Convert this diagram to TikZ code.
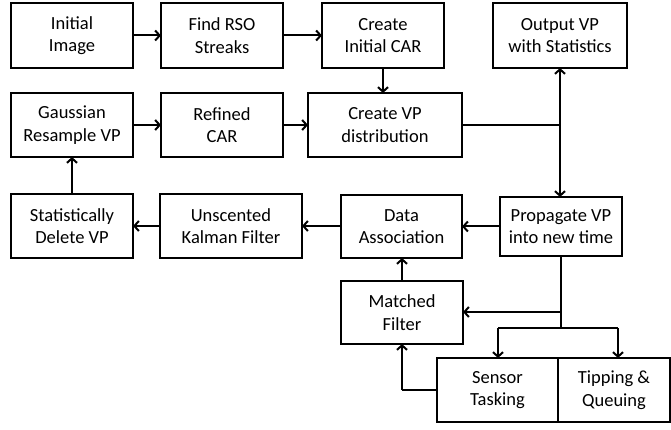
\documentclass[tikz,border=0pt]{standalone}
\usepackage{fontspec}
\setmainfont{Carlito}
\usetikzlibrary{arrows.meta}
\begin{document}
\begin{tikzpicture}[x=1pt,y=-1pt,
  box/.style={draw, line width=2.3pt, align=center, inner sep=0pt, outer sep=0pt,
    minimum height=64pt, font=\fontsize{18.5}{22.5}\selectfont},
  arr/.style={line width=2pt, -{Straight Barb[length=4.5pt,width=10pt,line width=2pt]}},
  ln/.style={line width=2pt}]
\useasboundingbox (0,0) rectangle (671,430);
\node[box, minimum width=122pt, minimum height=65pt] (init) at (72,35.5) {Initial\\Image};
\node[box, minimum width=122pt, minimum height=65pt] (find) at (222,35.5) {Find RSO\\Streaks};
\node[box, minimum width=122pt, minimum height=65pt] (cicar) at (383,35.5) {Create\\Initial CAR};
\node[box, minimum width=134pt, minimum height=65pt] (outvp) at (560,35.5) {Output VP\\with Statistics};
\node[box, minimum width=122pt] (gauss) at (72,125) {Gaussian\\Resample VP};
\node[box, minimum width=122pt] (refined) at (222,125) {Refined\\CAR};
\node[box, minimum width=154pt] (cvpd) at (385,125) {Create VP\\distribution};
\node[box, minimum width=122pt] (stat) at (72,226) {Statistically\\Delete VP};
\node[box, minimum width=142pt] (ukf) at (231,226) {Unscented\\Kalman Filter};
\node[box, minimum width=121pt, minimum height=63pt] (da) at (401.5,226.5) {Data\\Association};
\node[box, minimum width=122pt, minimum height=59pt] (prop) at (561,226.5) {Propagate VP\\into new time};
\node[box, minimum width=122pt, minimum height=63pt] (mf) at (402,312.5) {Matched\\Filter};
\node[box, minimum width=121pt] (st) at (497.5,390) {Sensor\\Tasking};
\node[box, minimum width=112pt] (tq) at (614,390) {Tipping \&\\Queuing};

\draw[arr] (init) -- (find);
\draw[arr] (find) -- (cicar);
\draw[arr] (cicar.south) -- (cicar.south |- cvpd.north);
\draw[arr] (gauss) -- (refined);
\draw[arr] (refined) -- (cvpd);
\coordinate (j1) at (cvpd.east -| outvp.south);
\draw[ln] (cvpd.east) -- (j1);
\draw[arr] (j1) -- (outvp.south);
\draw[arr] (j1) -- (j1 |- prop.north);
\draw[arr] (prop.west) -- (prop.west -| da.east);
\draw[arr] (da.west |- ukf.east) -- (ukf.east);
\draw[arr] (ukf.west) -- (stat.east);
\draw[arr] (stat.north) -- (gauss.south);
\draw[arr] (mf.north) -- (mf.north |- da.south);
\coordinate (j2) at (561,328);
\coordinate (j3) at (561,312);
\draw[ln] (prop.south) -- (j2);
\draw[arr] (j3) -- (j3 -| mf.east);
\coordinate (bl) at (498,328);
\coordinate (br) at (618,328);
\draw[ln] (bl) -- (br);
\draw[arr] (bl) -- (bl |- st.north);
\draw[arr] (br) -- (br |- tq.north);
\coordinate (k) at (st.west -| mf.south);
\draw[ln] (st.west) -- (k);
\draw[arr] (k) -- (mf.south);
\end{tikzpicture}
\end{document}
